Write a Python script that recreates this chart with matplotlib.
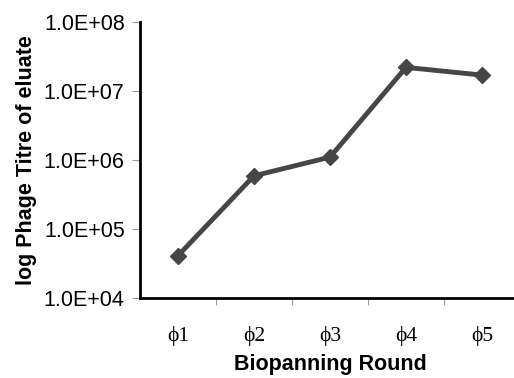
import matplotlib.pyplot as plt
from matplotlib.ticker import FixedLocator, NullLocator

rounds = ['\u03d51', '\u03d52', '\u03d53', '\u03d54', '\u03d55']
titre = [4.1e4, 5.9e5, 1.1e6, 2.2e7, 1.7e7]
ytick_vals = [1e4, 1e5, 1e6, 1e7, 1e8]
ytick_labels = ['1.0E+04', '1.0E+05', '1.0E+06', '1.0E+07', '1.0E+08']

fig = plt.figure(figsize=(5.14, 3.78), dpi=100)
# axes box in pixels: left 140, right 520 (beyond the crop), bottom 298, top 22
ax = fig.add_axes([140/514, (378-298)/378, 380/514, 276/378])

x = list(range(len(rounds)))
ax.plot(x, titre, color='#464646', lw=3.5, marker='D', ms=8, mfc='#464646', mec='#464646')

ax.set_yscale('log')
ax.set_ylim(1e4, 1e8)
ax.yaxis.set_major_locator(FixedLocator(ytick_vals))
ax.yaxis.set_minor_locator(NullLocator())
ax.set_yticks(ytick_vals)
ax.set_yticklabels(ytick_labels, fontsize=15.5, family='Liberation Sans')

ax.set_xlim(-0.5, len(rounds) - 0.5)
ax.set_xticks([i + 0.5 for i in range(len(rounds) - 1)])
ax.set_xticklabels([])
ax.set_xticks(x, minor=True)
ax.set_xticklabels(rounds, minor=True, fontsize=15.5, family='Liberation Serif')
ax.tick_params(axis='x', which='minor', length=0, pad=20)
ax.tick_params(axis='x', which='major', length=5, width=0.8, color='#999999', direction='out')
ax.tick_params(axis='y', which='major', length=6, width=0.8, color='#999999', direction='out', pad=5)

for s in ['top', 'right']:
    ax.spines[s].set_visible(False)
for s in ['left', 'bottom']:
    ax.spines[s].set_linewidth(2)
    ax.spines[s].set_color('black')

ax.set_ylabel('log Phage Titre of eluate', fontsize=15.5, fontweight='bold', family='Liberation Sans', labelpad=5)
ax.set_xlabel('Biopanning Round', fontsize=15.5, fontweight='bold', family='Liberation Sans', labelpad=6)

fig.savefig('out.png', dpi=100)
